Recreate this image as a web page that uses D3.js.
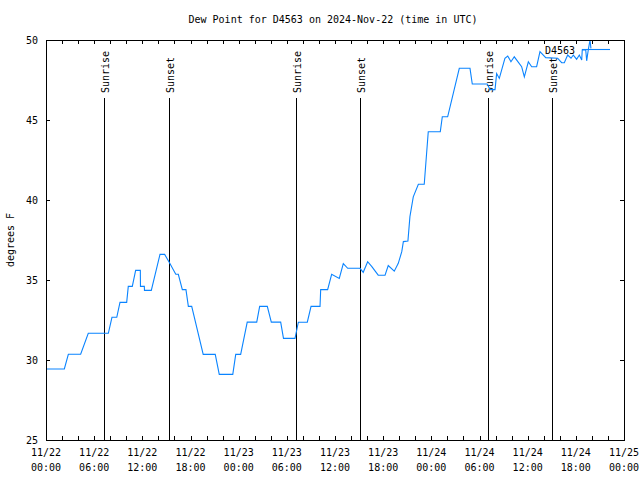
<!DOCTYPE html>
<html><head><meta charset="utf-8">
<script src="https://cdn.jsdelivr.net/npm/d3@7"></script>
<style>
body{margin:0;background:#fff}
svg text{font-family:"DejaVu Sans Mono","Liberation Mono",monospace;font-size:10px;fill:#000}
</style>
</head><body><svg id="c" width="640" height="480"></svg>
<script>
const titleText = "Dew Point for D4563 on 2024-Nov-22 (time in UTC)";
const yLabel = "degrees F";
const seriesName = "D4563";
const times = [
 "2024-11-22T00:00","2024-11-22T02:17","2024-11-22T02:47","2024-11-22T04:19","2024-11-22T05:16",
 "2024-11-22T07:46","2024-11-22T08:13","2024-11-22T08:49","2024-11-22T09:13","2024-11-22T10:03",
 "2024-11-22T10:15","2024-11-22T10:45","2024-11-22T11:10","2024-11-22T11:45","2024-11-22T11:46",
 "2024-11-22T12:15","2024-11-22T12:16","2024-11-22T13:07","2024-11-22T14:12","2024-11-22T14:47",
 "2024-11-22T15:22","2024-11-22T16:10","2024-11-22T16:29","2024-11-22T16:59","2024-11-22T17:26",
 "2024-11-22T17:44","2024-11-22T18:09","2024-11-22T19:35","2024-11-22T21:05","2024-11-22T21:35",
 "2024-11-22T23:16","2024-11-22T23:38","2024-11-23T00:15","2024-11-23T01:04","2024-11-23T02:15",
 "2024-11-23T02:37","2024-11-23T03:34","2024-11-23T04:04","2024-11-23T05:14","2024-11-23T05:35",
 "2024-11-23T07:01","2024-11-23T07:26","2024-11-23T08:33","2024-11-23T09:01","2024-11-23T10:08",
 "2024-11-23T10:13","2024-11-23T11:05","2024-11-23T11:35","2024-11-23T12:32","2024-11-23T13:02",
 "2024-11-23T13:35","2024-11-23T15:07","2024-11-23T15:31","2024-11-23T16:04","2024-11-23T16:34",
 "2024-11-23T17:23","2024-11-23T18:14","2024-11-23T18:38","2024-11-23T19:23","2024-11-23T19:53",
 "2024-11-23T20:19","2024-11-23T20:31","2024-11-23T21:05","2024-11-23T21:20","2024-11-23T21:45",
 "2024-11-23T22:23","2024-11-23T23:07","2024-11-23T23:37","2024-11-24T01:07","2024-11-24T01:22",
 "2024-11-24T02:02","2024-11-24T02:44","2024-11-24T03:29","2024-11-24T04:49","2024-11-24T05:06",
 "2024-11-24T06:58","2024-11-24T07:19","2024-11-24T07:56","2024-11-24T08:08","2024-11-24T08:28",
 "2024-11-24T09:10","2024-11-24T09:31","2024-11-24T09:55","2024-11-24T10:20","2024-11-24T11:15",
 "2024-11-24T11:35","2024-11-24T12:05","2024-11-24T12:30","2024-11-24T13:07","2024-11-24T13:32",
 "2024-11-24T14:15","2024-11-24T15:44","2024-11-24T16:14","2024-11-24T16:34","2024-11-24T16:59",
 "2024-11-24T17:24","2024-11-24T17:41","2024-11-24T18:06","2024-11-24T18:26","2024-11-24T18:44",
 "2024-11-24T18:48","2024-11-24T19:14","2024-11-24T19:21","2024-11-24T19:33","2024-11-24T19:46",
 "2024-11-24T19:53"
];
const dewPoint = [
 29.44,29.44,30.36,30.36,31.67,
 31.67,32.67,32.67,33.6,33.6,
 34.6,34.6,35.6,35.6,34.6,
 34.6,34.35,34.35,36.6,36.6,
 36.1,35.36,35.36,34.4,34.4,
 33.35,33.35,30.35,30.35,29.1,
 29.1,30.35,30.35,32.37,32.37,
 33.35,33.35,32.37,32.37,31.35,
 31.35,32.36,32.36,33.35,33.35,
 34.4,34.4,35.36,35.1,36.02,
 35.73,35.73,35.48,36.14,35.85,
 35.3,35.3,35.9,35.55,36.04,
 36.77,37.4,37.44,38.96,40.2,
 40.98,40.98,44.27,44.27,45.2,
 45.2,46.67,48.23,48.23,47.25,
 47.25,46.9,46.9,47.9,47.6,
 48.86,49.0,48.64,48.95,48.33,
 47.7,48.64,48.33,48.33,49.27,
 48.9,48.86,48.58,48.58,49.06,
 48.86,49.06,48.8,49.06,48.75,
 49.38,49.38,48.7,49.38,50.0,
 49.48
];
const sunTimes = ["2024-11-22T07:16","2024-11-22T15:22","2024-11-23T07:08","2024-11-23T15:09","2024-11-24T07:06","2024-11-24T15:04"];
const sunLabels = ["Sunrise","Sunset","Sunrise","Sunset","Sunrise","Sunset"];
const yTicks = [25,30,35,40,45,50];
const xStart = "2024-11-22T00:00", xEnd = "2024-11-25T00:00";

const parse = s => new Date(s + ":00Z");
const svg = d3.select("#c");
const L = 46, R = 624, T = 40, B = 440;
const x = d3.scaleUtc().domain([parse(xStart), parse(xEnd)]).range([L, R]);
const y = d3.scaleLinear().domain([25, 50]).range([B, T]);

const minorTicks = d3.utcHour.every(2).range(parse(xStart), new Date(+parse(xEnd) + 1));
const majorTicks = d3.utcHour.every(6).range(parse(xStart), new Date(+parse(xEnd) + 1));

function styleAxis(g){
  g.select(".domain").remove();
  g.selectAll("line").attr("stroke","#000").attr("shape-rendering","crispEdges");
  g.attr("font-family", null).attr("font-size", null);
}
svg.append("g").attr("transform",`translate(0,${B})`)
  .call(d3.axisBottom(x).tickValues(minorTicks).tickSizeInner(-4).tickSizeOuter(0).tickFormat(""))
  .call(styleAxis);
svg.append("g").attr("transform",`translate(0,${T})`)
  .call(d3.axisTop(x).tickValues(minorTicks).tickSizeInner(-4).tickSizeOuter(0).tickFormat(""))
  .call(styleAxis);
svg.append("g").attr("transform",`translate(${L},0)`)
  .call(d3.axisLeft(y).tickValues(yTicks).tickSizeInner(-4).tickSizeOuter(0).tickPadding(8).tickFormat(d3.format("d")))
  .call(styleAxis);
svg.append("g").attr("transform",`translate(${R},0)`)
  .call(d3.axisRight(y).tickValues(yTicks).tickSizeInner(-4).tickSizeOuter(0).tickFormat(""))
  .call(styleAxis);

// x tick labels (two lines)
const fmtD = d3.utcFormat("%m/%d"), fmtH = d3.utcFormat("%H:%M");
const xl = svg.append("g").selectAll("text").data(majorTicks).join("text")
  .attr("text-anchor","middle");
xl.append("tspan").attr("x", d => x(d)).attr("y", 456).text(d => fmtD(d));
xl.append("tspan").attr("x", d => x(d)).attr("y", 471).text(d => fmtH(d));

// sunrise / sunset lines
const sun = svg.append("g");
sun.selectAll("line").data(sunTimes).join("line")
  .attr("x1", d => Math.round(x(parse(d))) + 0.5).attr("x2", d => Math.round(x(parse(d))) + 0.5)
  .attr("y1", 98).attr("y2", B).attr("stroke","#000").attr("stroke-width",1)
  .attr("shape-rendering","crispEdges");
sun.selectAll("text").data(sunTimes).join("text")
  .attr("transform", d => `translate(${Math.round(x(parse(d))) + 5},93) rotate(-90)`)
  .attr("text-anchor","start").text((d,i) => sunLabels[i]);

// data line
const pts = times.map((t,i) => [parse(t), dewPoint[i]]);
svg.append("path").datum(pts)
  .attr("fill","none").attr("stroke","#0a84ff").attr("stroke-width",1.1)
  .attr("d", d3.line().x(d => x(d[0])).y(d => y(d[1])));

// border
svg.append("rect").attr("x", L + 0.5).attr("y", T + 0.5).attr("width", R - L).attr("height", B - T)
  .attr("fill","none").attr("stroke","#000").attr("shape-rendering","crispEdges");

// title
svg.append("text").attr("x", 333).attr("y", 23).attr("text-anchor","middle").text(titleText);
// y label
svg.append("text").attr("transform","translate(14,240) rotate(-90)").attr("text-anchor","middle").text(yLabel);
// legend
svg.append("text").attr("x", 575).attr("y", 54).attr("text-anchor","end").text(seriesName);
svg.append("line").attr("x1", 582).attr("x2", 610).attr("y1", 49.5).attr("y2", 49.5)
  .attr("stroke","#0a84ff").attr("stroke-width",1.1);
</script></body></html>
